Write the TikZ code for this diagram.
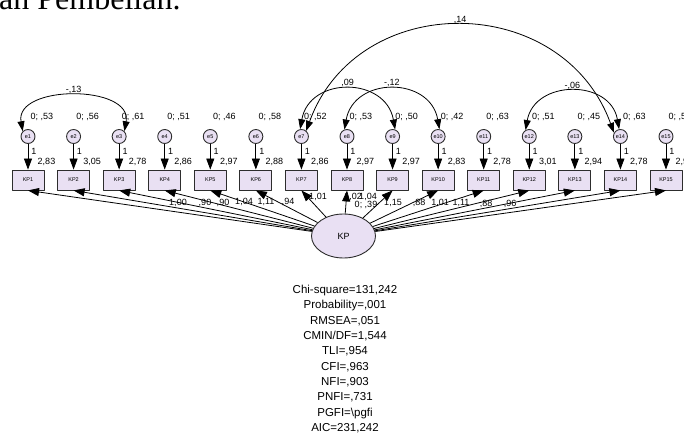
\documentclass[tikz,border=0pt]{standalone}
\usepackage{fontspec}
\setmainfont{Liberation Sans}
\newfontfamily\capfont{Liberation Serif}
\usetikzlibrary{arrows.meta,shapes.geometric}
\definecolor{obsfill}{RGB}{233,224,243}
\definecolor{edge}{RGB}{45,45,45}

\begin{document}
\begin{tikzpicture}[x=1pt,y=1pt,line join=round,>={Triangle[length=11pt,width=8pt]},
  obs/.style={draw=edge,line width=0.9pt,fill=obsfill,minimum width=32pt,minimum height=20pt,inner sep=0pt,font=\fontsize{5.5}{6}\selectfont},
  err/.style={circle,draw=edge,line width=0.9pt,fill=obsfill,minimum size=14pt,inner sep=0pt,font=\fontsize{5.5}{6}\selectfont},
  lat/.style={ellipse,draw=edge,line width=0.9pt,fill=obsfill,minimum width=64pt,minimum height=44pt,inner sep=0pt,font=\fontsize{9}{10}\selectfont},
  est/.style={font=\fontsize{9}{10}\selectfont,inner sep=0pt},
  reg/.style={->,line width=0.8pt},
  cov/.style={<->,line width=0.8pt,>={Triangle[length=10pt,width=7pt]}}]
	\useasboundingbox (0,0) rectangle (684,-435);
	\node[anchor=base west,inner sep=0pt,font=\capfont\fontsize{32}{36}\selectfont] (title) at (-17,-9.5) {ban Pembelian.};

	\node[lat] (kp) at (343.5,-236) {KP};
	\node[est] (kpvar) at (366,-205) {0; ,39};

	\foreach \i/\v/\c/\w/\lx/\ly in {1/{,53}/{2,83}/{1,00}/178/203, 2/{,56}/{3,05}/{,90}/205/203,
		3/{,61}/{2,78}/{,90}/223/203, 4/{,51}/{2,86}/{1,04}/244/202, 5/{,46}/{2,97}/{1,11}/266/202,
		6/{,58}/{2,88}/{,94}/288/202, 7/{,52}/{2,86}/{1,01}/318/197, 8/{,53}/{2,97}/{1,02}/353/197,
		9/{,50}/{2,97}/{1,04}/368/197, 10/{,42}/{2,83}/{1,15}/393/203, 11/{,63}/{2,78}/{,88}/419/203,
		12/{,51}/{3,01}/{1,01}/440/203, 13/{,45}/{2,94}/{1,11}/461/203, 14/{,63}/{2,78}/{,88}/486/204,
		15/{,56}/{2,94}/{,96}/510/204}{
		\pgfmathsetmacro\xx{28+45.57*(\i-1)}
		\node[obs] (kp\i) at (\xx,-180) {KP\i};
		\node[err] (e\i) at (\xx,-136.5) {e\i};
		\node[est] at (\xx+14,-117) {0; \v};
		\draw[reg] (e\i) -- node[est,pos=0.3,right=3pt] {1} (kp\i);
		\node[est] at (\xx+18.5,-161.5) {\c};
		\draw[reg] (kp) -- (kp\i.south);
		\node[est] at (\lx,-\ly) {\w};
	}

	% covariances between error terms
	\draw[cov] (e1.135) to[out=100,in=80,looseness=1.2] node[est,above=2pt] {-,13} (e3.45);
	\draw[cov] (e7.100) to[out=80,in=100,looseness=1.45] node[est,above=2pt] {,09} (e9.70);
	\draw[cov] (e8.110) to[out=80,in=100,looseness=1.45] node[est,above=2pt] {-,12} (e10.80);
	\draw[cov] (e12.120) to[out=80,in=100,looseness=1.4] node[est,above=2pt] {-,06} (e14.100);
	\draw[cov] (e7.50) to[out=70,in=110,looseness=1.25] node[est,above=2pt] {,14} (e14.150);

	\node[anchor=north,inner sep=0pt,align=center,font=\fontsize{11.5}{15.33}\selectfont] (fit) at (345,-285)
		{Chi-square=131,242\\Probability=,001\\RMSEA=,051\\CMIN/DF=1,544\\TLI=,954\\CFI=,963\\NFI=,903\\PNFI=,731\\PGFI=\textbackslash pgfi\\AIC=231,242};
\end{tikzpicture}
\end{document}
